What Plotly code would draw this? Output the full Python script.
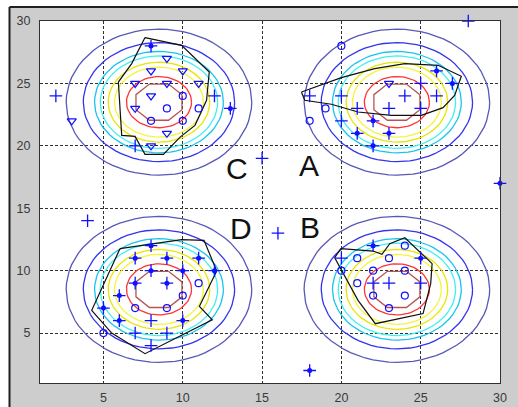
import numpy as np
import plotly.graph_objects as go

# ---- data ----
blob_cx = [8.5, 23.5, 8.5, 23.5]
blob_cy = [23.5, 23.5, 8.5, 8.5]
ring_r = [5.85, 4.77, 4.06, 3.7, 3.2, 2.8, 2.05, 1.45]
ring_colors = ["#5858b8", "#3434ec", "#18c4ee", "#40f0f0", "#e6e600", "#f4f43a", "#ff3434", "#b45454"]

plus_x = [7, 12, 2, 25, 24, 26, 18, 20, 21, 23, 25, 20, 8, 7, 9, 8, 4, 20, 22, 23, 25, 16, 15, 28]
plus_y = [20, 24, 24, 25, 24, 24, 24, 24, 23, 23, 23, 22, 6, 5, 5, 4, 14, 11, 9, 9, 9, 13, 19, 30]

star_x = [8, 13, 26, 27, 22, 21, 23, 22, 30, 8, 7, 9, 11, 8, 10, 12, 7, 9, 6, 5, 6, 10, 22, 25, 18]
star_y = [28, 23, 26, 25, 22, 21, 21, 20, 17, 12, 11, 11, 11, 10, 10, 10, 9, 9, 8, 7, 6, 6, 12, 11, 2]

circ_x = [10, 9, 11, 8, 10, 20, 19, 18, 11, 10, 7, 9, 5, 24, 21, 23, 20, 22, 24, 21, 22, 24, 23]
circ_y = [24, 23, 23, 22, 22, 28, 23, 22, 9, 8, 7, 7, 5, 12, 11, 11, 10, 10, 10, 9, 8, 8, 7]

tri_x = [9, 8, 10, 7, 9, 11, 8, 7, 9, 8, 3, 23]
tri_y = [27, 26, 26, 25, 25, 25, 24, 23, 21, 20, 22, 25]

hullC_x = [7.62, 9.93, 11.67, 11.5, 10.77, 9.83, 8.78, 7.62, 6.99, 6.15, 5.94, 6.78, 7.62]
hullC_y = [28.67, 28.05, 25.91, 23.65, 21.64, 20.7, 19.32, 19.32, 20.76, 20.84, 25.11, 26.59, 28.67]
hullA_x = [17.48, 18.64, 20.0, 22.1, 24.0, 26.1, 27.56, 27.15, 26.41, 25.04, 23.15, 21.05, 19.37, 17.69, 17.48]
hullA_y = [24.31, 24.85, 25.46, 26.19, 26.59, 26.45, 25.57, 24.05, 23.06, 22.44, 22.44, 22.71, 23.33, 23.65, 24.31]
hullD_x = [6.04, 9.93, 11.34, 12.14, 11.05, 11.86, 7.62, 5.52, 4.26, 6.04]
hullD_y = [11.76, 12.48, 12.43, 9.97, 7.14, 6.07, 3.35, 5.0, 6.82, 11.76]
hullB_x = [19.96, 22.0, 22.56, 23.05, 24.0, 25.72, 25.63, 25.15, 22.14, 21.05, 19.58, 19.96]
hullB_y = [11.76, 11.57, 11.31, 12.16, 12.64, 10.56, 8.96, 6.56, 5.75, 7.62, 11.04, 11.76]

label_text = ["C", "A", "D", "B"]
label_x = [13.45, 17.94, 13.64, 18.0]
label_y = [18.16, 18.44, 13.35, 13.47]

ticks = [5, 10, 15, 20, 25, 30]

BLUE = "#1010ff"
fig = go.Figure()

# contour rings
t_smooth = np.linspace(0, 2 * np.pi, 73)
t_oct = np.deg2rad(22.5 + 45 * np.arange(9))
for cx, cy in zip(blob_cx, blob_cy):
    for k, (r, col) in enumerate(zip(ring_r, ring_colors)):
        if k == len(ring_r) - 1:
            rr = r / np.cos(np.deg2rad(22.5))
            xs, ys = cx + rr * np.cos(t_oct), cy + rr * np.sin(t_oct)
        else:
            xs, ys = cx + r * np.cos(t_smooth), cy + r * np.sin(t_smooth)
        fig.add_trace(go.Scatter(x=xs, y=ys, mode="lines",
                                 line=dict(color=col, width=1.3),
                                 hoverinfo="skip", showlegend=False))

# hull outlines
for hx, hy in [(hullC_x, hullC_y), (hullA_x, hullA_y), (hullD_x, hullD_y), (hullB_x, hullB_y)]:
    fig.add_trace(go.Scatter(x=hx, y=hy, mode="lines",
                             line=dict(color="#101010", width=1.2),
                             showlegend=False))

# markers
fig.add_trace(go.Scatter(x=plus_x, y=plus_y, mode="markers", cliponaxis=False,
                         marker=dict(symbol="cross-thin", size=9, color=BLUE,
                                     line=dict(color=BLUE, width=1.3)),
                         showlegend=False))
fig.add_trace(go.Scatter(x=star_x, y=star_y, mode="markers", cliponaxis=False,
                         marker=dict(symbol="cross-thin", size=9, color=BLUE,
                                     line=dict(color=BLUE, width=1.3)),
                         showlegend=False))
fig.add_trace(go.Scatter(x=star_x, y=star_y, mode="markers", cliponaxis=False,
                         marker=dict(symbol="circle", size=5, color=BLUE, line=dict(width=0)),
                         showlegend=False))
fig.add_trace(go.Scatter(x=circ_x, y=circ_y, mode="markers", cliponaxis=False,
                         marker=dict(symbol="circle-open", size=7, color=BLUE,
                                     line=dict(color=BLUE, width=1.2)),
                         showlegend=False))
fig.add_trace(go.Scatter(x=tri_x, y=tri_y, mode="markers", cliponaxis=False,
                         marker=dict(symbol="triangle-down-open", size=8, color=BLUE,
                                     line=dict(color=BLUE, width=1.2)),
                         showlegend=False))

for txt, lx, ly in zip(label_text, label_x, label_y):
    fig.add_annotation(x=lx, y=ly, text=txt, showarrow=False,
                       font=dict(family="Liberation Sans, Arial", size=30, color="#111111"))

axis_common = dict(range=[1, 30], tickvals=ticks, ticktext=[str(v) for v in ticks],
                   showgrid=True, gridcolor="#303030", gridwidth=1, griddash="3px,2px",
                   showline=True, linecolor="#303030", linewidth=1, mirror=True,
                   zeroline=False, ticks="", automargin=False,
                   tickfont=dict(family="Liberation Sans, Arial", size=12.5, color="#3a3a3a"))

fig.update_layout(
    width=518, height=407,
    margin=dict(l=40, r=18, t=21, b=24, autoexpand=False),
    paper_bgcolor="#cdcdcd", plot_bgcolor="white",
    xaxis=dict(**axis_common, ticklabelstandoff=3),
    yaxis=dict(**axis_common, ticklabelstandoff=6),
    showlegend=False,
    shapes=[
        dict(type="rect", xref="paper", yref="paper", x0=-0.09, x1=1.05, y0=1.0387, y1=1.07,
             fillcolor="white", line=dict(width=0), layer="below"),
        dict(type="rect", xref="paper", yref="paper", x0=-0.09, x1=-0.0663, y0=-0.08, y1=1.07,
             fillcolor="white", line=dict(width=0), layer="below"),
        dict(type="line", xref="paper", yref="paper", x0=-0.0663, x1=1.05, y0=1.0387, y1=1.0387,
             line=dict(color="#202020", width=2), layer="below"),
        dict(type="line", xref="paper", yref="paper", x0=-0.0663, x1=-0.0663, y0=-0.08, y1=1.0387,
             line=dict(color="#202020", width=2), layer="below"),
    ],
)

fig.write_html("out.html", config={"displayModeBar": False},
               post_script="document.body.style.margin='0';document.body.style.overflow='hidden';")
